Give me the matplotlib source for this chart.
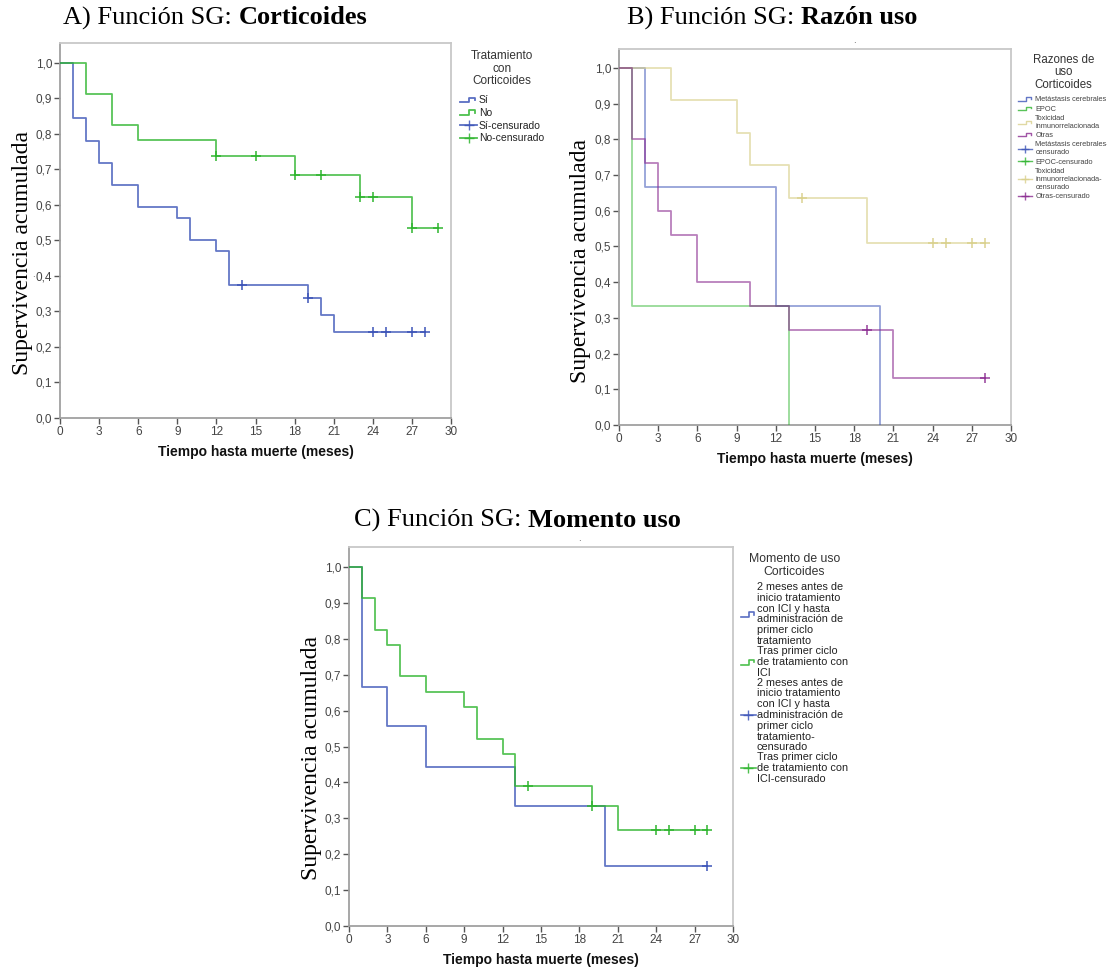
import numpy as np
import matplotlib
matplotlib.use('Agg')
import matplotlib.pyplot as plt
from matplotlib.lines import Line2D
from matplotlib.legend_handler import HandlerBase

plt.rcParams['font.family'] = ['Liberation Sans', 'DejaVu Sans']

# ---------------- Data ----------------
# Panel A: Corticoides (Sí / No)
a_si_t = [0, 1, 2, 3, 4, 6, 9, 10, 12, 13, 19, 20, 21, 28]
a_si_s = [1.0, 0.844, 0.781, 0.719, 0.656, 0.594, 0.5625, 0.5, 0.469, 0.375, 0.337, 0.289, 0.241, 0.241]
a_si_c = [14, 19, 24, 25, 27, 28]
a_no_t = [0, 2, 4, 6, 12, 18, 23, 27, 29]
a_no_s = [1.0, 0.913, 0.826, 0.783, 0.739, 0.685, 0.622, 0.534, 0.534]
a_no_c = [12, 15, 18, 20, 23, 24, 27, 29]
a_labels = ['Sí', 'No', 'Sí-censurado', 'No-censurado']

# Panel B: Razón uso
b_met_t = [0, 2, 12, 20]
b_met_s = [1.0, 0.667, 0.333, 0.0]
b_met_c = []
b_epoc_t = [0, 1, 13]
b_epoc_s = [1.0, 0.333, 0.0]
b_epoc_c = []
b_tox_t = [0, 4, 9, 10, 13, 19, 28]
b_tox_s = [1.0, 0.909, 0.818, 0.727, 0.636, 0.509, 0.509]
b_tox_c = [14, 24, 25, 27, 28]
b_otr_t = [0, 1, 2, 3, 4, 6, 10, 13, 21, 28]
b_otr_s = [1.0, 0.8, 0.733, 0.6, 0.533, 0.4, 0.333, 0.267, 0.133, 0.133]
b_otr_c = [19, 28]
b_labels = ['Metástasis cerebrales', 'EPOC', 'Toxicidad\ninmunorrelacionada', 'Otras',
            'Metástasis cerebrales-\ncensurado', 'EPOC-censurado',
            'Toxicidad\ninmunorrelacionada-\ncensurado', 'Otras-censurado']

# Panel C: Momento uso
c_pre_t = [0, 1, 3, 6, 13, 20, 28]
c_pre_s = [1.0, 0.667, 0.556, 0.444, 0.333, 0.167, 0.167]
c_pre_c = [28]
c_post_t = [0, 1, 2, 3, 4, 6, 9, 10, 12, 13, 19, 21, 28]
c_post_s = [1.0, 0.913, 0.826, 0.783, 0.696, 0.652, 0.609, 0.522, 0.478, 0.391, 0.3355, 0.268, 0.268]
c_post_c = [14, 19, 24, 25, 27, 28]
c_labels = ['2 meses antes de\ninicio tratamiento\ncon ICI y hasta\nadministración de\nprimer ciclo\ntratamiento',
            'Tras primer ciclo\nde tratamiento con\nICI',
            '2 meses antes de\ninicio tratamiento\ncon ICI y hasta\nadministración de\nprimer ciclo\ntratamiento-\ncensurado',
            'Tras primer ciclo\nde tratamiento con\nICI-censurado']

x_ticks = list(range(0, 31, 3))
y_ticks = [i / 10 for i in range(11)]
y_ticklabels = [f'{v:.1f}'.replace('.', ',') for v in y_ticks]

BLUE = '#3d55b8'
GREEN = '#2fb52f'
KHAKI = '#d9d08c'
PURPLE = '#8a2a90'

W, H = 1107, 971
fig = plt.figure(figsize=(W / 100, H / 100), dpi=100)


def px_axes(l, t, r, b):
    return fig.add_axes([l / W, 1 - b / H, (r - l) / W, (b - t) / H])


class StepKey(Line2D):
    pass


class StepHandler(HandlerBase):
    def create_artists(self, legend, orig_handle, xdescent, ydescent, width, height, fontsize, trans):
        xs = np.array([0, 0.55, 0.55, 0.9, 0.9]) * width - xdescent
        ys = np.array([0.15, 0.15, 0.8, 0.8, 0.45]) * height - ydescent
        ln = Line2D(xs, ys, color=orig_handle.get_color(), lw=orig_handle.get_linewidth(),
                    alpha=orig_handle.get_alpha(), transform=trans)
        return [ln]


def km(ax, t, s, c, color, alpha, lw=1.3, ms=7):
    ax.step(t, s, where='post', color=color, lw=lw, alpha=alpha, zorder=3)
    if c:
        t_arr = np.asarray(t)
        s_arr = np.asarray(s)
        cv = [s_arr[np.searchsorted(t_arr, x, side='right') - 1] for x in c]
        ax.plot(c, cv, ls='none', marker='+', ms=ms, mew=1.1, color=color, alpha=min(1, alpha + 0.3), zorder=4)


def style(ax, ytop):
    ax.set_xlim(0, 30)
    ax.set_ylim(0, ytop)
    ax.set_xticks(x_ticks)
    ax.set_xticklabels([str(v) for v in x_ticks])
    ax.set_yticks(y_ticks)
    ax.set_yticklabels(y_ticklabels)
    ax.tick_params(direction='out', length=4, width=1, color='#555555', labelsize=8.5,
                   labelcolor='#444444', pad=1.5)
    for sp in ['left', 'bottom']:
        ax.spines[sp].set_color('#a0a0a0')
        ax.spines[sp].set_linewidth(1.3)
    for sp in ['top', 'right']:
        ax.spines[sp].set_color('#c8c8c8')
        ax.spines[sp].set_linewidth(1.3)


def labels(ax, ylab_dx, ylab_dy, xlab_dy):
    ax.set_ylabel('Supervivencia acumulada', family='Liberation Serif', fontsize=17, va='center')
    ax.yaxis.set_label_coords(ylab_dx, ylab_dy)
    ax.set_xlabel('Tiempo hasta muerte (meses)', fontsize=10, fontweight='bold', va='center',
                  color='#111111')
    ax.xaxis.set_label_coords(0.5, xlab_dy)


renderer = fig.canvas.get_renderer()


def title(x_px, y_px, regular, bold):
    t1 = fig.text(x_px / W, 1 - y_px / H, regular, family='Liberation Serif', fontsize=19, va='center')
    bb = t1.get_window_extent(renderer)
    fig.text(bb.x1 / W, 1 - y_px / H, bold, family='Liberation Serif', fontsize=19,
             fontweight='bold', va='center')


def finish_legend(leg, sep, title_ls=1.05, text_ls=None, text_color=None):
    leg.get_title().set_multialignment('center')
    leg.get_title().set_color('#333333')
    leg.get_title().set_linespacing(title_ls)
    leg._legend_box.sep = sep
    for t in leg.get_texts():
        if text_ls is not None:
            t.set_linespacing(text_ls)
        if text_color is not None:
            t.set_color(text_color)


# ---------------- Panel A ----------------
axA = px_axes(60, 43, 451, 418)
style(axA, 1.056)
km(axA, a_si_t, a_si_s, a_si_c, BLUE, 0.8)
km(axA, a_no_t, a_no_s, a_no_c, GREEN, 0.8)
labels(axA, -0.097, 0.44, -0.09)
title(63, 18, 'A) Función SG: ', 'Corticoides')
hA = [StepKey([], [], color=BLUE, lw=1.3, alpha=0.85), StepKey([], [], color=GREEN, lw=1.3, alpha=0.85),
      Line2D([], [], color=BLUE, lw=1.3, marker='+', ms=7, alpha=0.85),
      Line2D([], [], color=GREEN, lw=1.3, marker='+', ms=7, alpha=0.85)]
legA = fig.legend(hA, a_labels, loc='upper left', bbox_to_anchor=(455 / W, 1 - 45 / H),
                  frameon=False, fontsize=7.5, title='Tratamiento\ncon\nCorticoides', title_fontsize=8.5,
                  handlelength=1.6, handletextpad=0.2, labelspacing=0.25, borderpad=0,
                  handler_map={StepKey: StepHandler()})
finish_legend(legA, sep=6, text_color='#222222')
fig.text(32 / W, 1 - 277 / H, '.', fontsize=7, color='#555555')

# ---------------- Panel B ----------------
axB = px_axes(619, 49, 1011, 425)
style(axB, 1.053)
km(axB, b_met_t, b_met_s, b_met_c, BLUE, 0.55)
km(axB, b_epoc_t, b_epoc_s, b_epoc_c, GREEN, 0.5)
km(axB, b_tox_t, b_tox_s, b_tox_c, KHAKI, 0.65)
km(axB, b_otr_t, b_otr_s, b_otr_c, PURPLE, 0.6)
labels(axB, -0.097, 0.436, -0.09)
title(627, 18, 'B) Función SG: ', 'Razón uso')
bcols = [BLUE, GREEN, KHAKI, PURPLE]
hB = [StepKey([], [], color=c, lw=1.0, alpha=0.8) for c in bcols] + \
     [Line2D([], [], color=c, lw=1.0, marker='+', ms=6, alpha=0.8) for c in bcols]
legB = fig.legend(hB, b_labels, loc='upper left', bbox_to_anchor=(1014 / W, 1 - 50 / H),
                  frameon=False, fontsize=5.3, title='Razones de\nuso\nCorticoides', title_fontsize=8.3,
                  handlelength=2.0, handletextpad=0.4, labelspacing=0.3, borderpad=0,
                  handler_map={StepKey: StepHandler()})
finish_legend(legB, sep=4, text_color='#444444')
fig.text(853 / W, 1 - 43 / H, '.', fontsize=7, color='#555555')

# ---------------- Panel C ----------------
axC = px_axes(349, 547, 733, 926)
style(axC, 1.056)
km(axC, c_pre_t, c_pre_s, c_pre_c, BLUE, 0.8)
km(axC, c_post_t, c_post_s, c_post_c, GREEN, 0.8)
labels(axC, -0.097, 0.443, -0.09)
title(354, 520, 'C) Función SG: ', 'Momento uso')
hC = [StepKey([], [], color=BLUE, lw=1.2, alpha=0.85), StepKey([], [], color=GREEN, lw=1.2, alpha=0.85),
      Line2D([], [], color=BLUE, lw=1.2, marker='+', ms=7, alpha=0.85),
      Line2D([], [], color=GREEN, lw=1.2, marker='+', ms=7, alpha=0.85)]
legC = fig.legend(hC, c_labels, loc='upper left', bbox_to_anchor=(736 / W, 1 - 548 / H),
                  frameon=False, fontsize=7.8, title='Momento de uso\nCorticoides', title_fontsize=8.8,
                  handlelength=1.3, handletextpad=0.1, labelspacing=0.0, borderpad=0,
                  handler_map={StepKey: StepHandler()})
finish_legend(legC, sep=3, title_ls=1.05, text_ls=1.1, text_color='#222222')
fig.text(578 / W, 1 - 541 / H, '.', fontsize=7, color='#555555')

fig.savefig('out.png', dpi=100)
